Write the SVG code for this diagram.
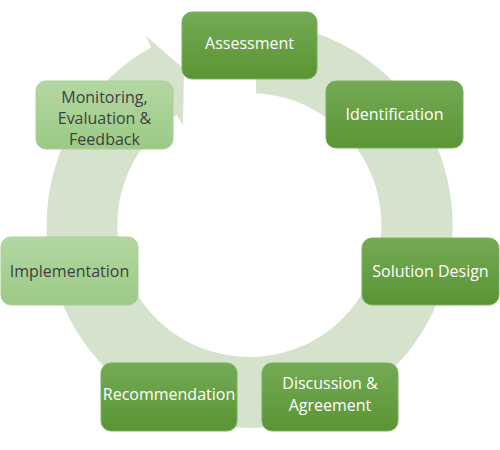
<svg xmlns="http://www.w3.org/2000/svg" width="500" height="450" viewBox="0 0 500 450">
<defs>
<linearGradient id="gDark" x1="0" y1="0" x2="0" y2="1">
<stop offset="0" stop-color="#74aa55"/>
<stop offset="1" stop-color="#5a9533"/>
</linearGradient>
<linearGradient id="gLight" x1="0" y1="0" x2="0" y2="1">
<stop offset="0" stop-color="#b4d7a3"/>
<stop offset="1" stop-color="#9bca84"/>
</linearGradient>
<style>
.dark rect{fill:url(#gDark);stroke:#7daf62;stroke-width:1}
.light rect{fill:url(#gLight);stroke:#a9d094;stroke-width:1}
text{font-family:"Open Sans","Noto Sans","Liberation Sans",sans-serif;font-size:16px;text-anchor:middle}
.dark text{fill:#ffffff}
.light text{fill:#404040}
</style>
</defs>
<rect width="500" height="450" fill="#ffffff"/>
<g id="connectors">
<path d="M256,22.1 A203,203 0 1 1 151.1,47.5 L146,36 L184,69 L183,125 L176.5,115 A132,132 0 1 0 256,93.2 Z" fill="#d5e2cc"/>
</g>
<g id="assessment" class="dark"><rect x="182" y="12" width="135" height="67" rx="10"/><text x="249.5" y="49">Assessment</text></g>
<g id="identification" class="dark"><rect x="326" y="81" width="137" height="67" rx="10"/><text x="394.5" y="120">Identification</text></g>
<g id="solution-design" class="dark"><rect x="362" y="238" width="137" height="67" rx="10"/><text x="430.5" y="277">Solution Design</text></g>
<g id="discussion" class="dark"><rect x="262" y="363" width="136" height="68" rx="10"/><text x="330" y="389">Discussion &amp;</text><text x="330" y="411">Agreement</text></g>
<g id="recommendation" class="dark"><rect x="101" y="363" width="136" height="68" rx="10"/><text x="169" y="400">Recommendation</text></g>
<g id="implementation" class="light"><rect x="1" y="237" width="137" height="68" rx="10"/><text x="69.5" y="277">Implementation</text></g>
<g id="monitoring" class="light"><rect x="36" y="81" width="137" height="68" rx="10"/><text x="104.5" y="103">Monitoring,</text><text x="104.5" y="124">Evaluation &amp;</text><text x="104.5" y="145">Feedback</text></g>
</svg>
